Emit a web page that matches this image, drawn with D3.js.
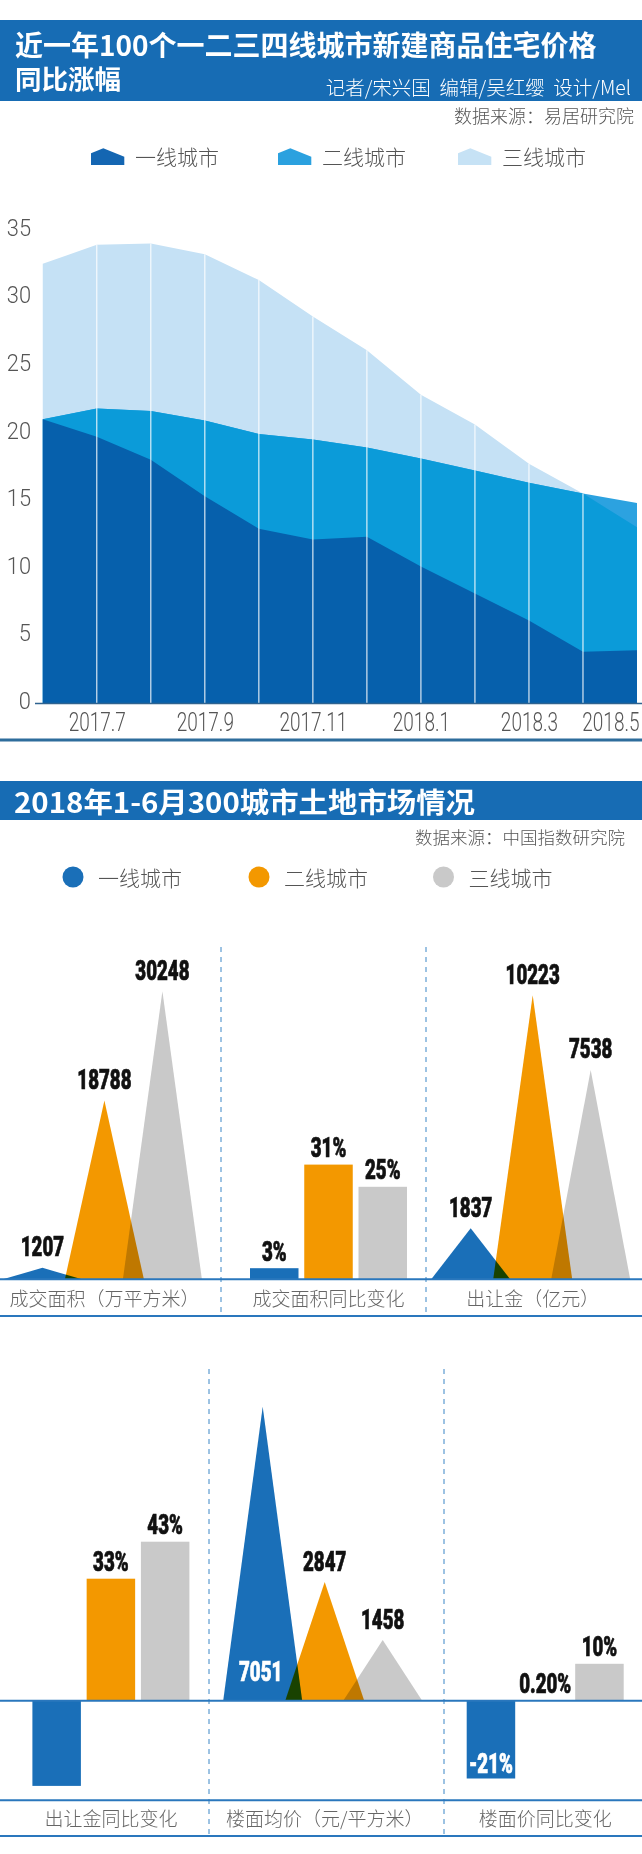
<!DOCTYPE html>
<html><head><meta charset="utf-8">
<script src="https://cdn.jsdelivr.net/npm/d3@7"></script>
<style>
body{margin:0;background:#fff;}
svg{display:block;font-family:"Noto Sans CJK SC","Noto Sans",sans-serif;}
</style></head><body>
<svg id="c" width="642" height="1854"></svg>
<script>
// ---------- data ----------
const months = ['2017.6','2017.7','2017.8','2017.9','2017.10','2017.11','2017.12','2018.1','2018.2','2018.3','2018.4','2018.5'];
const monthTicks = ['2017.7','2017.9','2017.11','2018.1','2018.3','2018.5'];
const tier1Growth = [21.0,19.7,18.0,15.3,12.9,12.1,12.3,10.1,8.1,6.1,3.8,3.9];
const tier2Growth = [21.0,21.8,21.6,20.9,19.9,19.5,18.9,18.1,17.2,16.3,15.5,14.8];
const tier3Growth = [32.5,33.9,34.0,33.2,31.3,28.6,26.1,22.8,20.6,17.7,15.5,13.0];
const growthTicks = [0,5,10,15,20,25,30,35];
const tiers = ['一线城市','二线城市','三线城市'];
const landArea = [1207,18788,30248];
const landAreaYoY = [3,31,25];
const landAreaYoYLabels = ['3%','31%','25%'];
const landRevenue = [1837,10223,7538];
const revenueYoY = [-23,33,43];
const revenueYoYLabels = [null,'33%','43%'];
const avgPrice = [7051,2847,1458];
const priceYoY = [-21,0.2,10];
const priceYoYLabels = ['-21%','0.20%','10%'];
const panelTitles = ['成交面积（万平方米）','成交面积同比变化','出让金（亿元）','出让金同比变化','楼面均价（元/平方米）','楼面价同比变化'];

// ---------- helpers ----------
const W = 642;
const svg = d3.select('#c');
const CJK = '"Noto Sans CJK SC","Noto Sans",sans-serif';
const NUM = 'Roboto,"Liberation Sans",sans-serif';
function condense(sel, k){
  sel.each(function(){
    const L = this.getComputedTextLength();
    if (L > 0){ this.setAttribute('textLength', L*k); this.setAttribute('lengthAdjust','spacingAndGlyphs'); }
  });
  return sel;
}

// ---------- header 1 ----------
svg.append('rect').attr('x',0).attr('y',20).attr('width',W).attr('height',81).attr('fill','#176cb4');
const title1 = svg.append('text').attr('fill','#fff').attr('font-weight',700).attr('font-family',CJK);
title1.append('tspan').attr('x',15).attr('y',56).attr('font-size',28).text('近一年100个一二三四线城市新建商品住宅价格');
title1.append('tspan').attr('x',15).attr('y',89).attr('font-size',26.5).text('同比涨幅');
svg.append('text').attr('x',631).attr('y',86).attr('dominant-baseline','central').attr('text-anchor','end')
  .attr('fill','#fff').attr('font-size',19.5).attr('font-weight',300).attr('font-family',CJK)
  .attr('xml:space','preserve')
  .text('记者/宋兴国  编辑/吴红缨  设计/Mel');
svg.append('text').attr('x',634).attr('y',115).attr('dominant-baseline','central').attr('text-anchor','end')
  .attr('fill','#555').attr('font-size',18).attr('font-weight',300).attr('font-family',CJK)
  .text('数据来源：易居研究院');

// legend 1
const areaColors = ['#0660ac','#0b9bd9','#c5e1f5'];
const legendIconColors = ['#1466b2','#2ba1df','#c6e2f5'];
const leg1x = [91, 278, 458];
tiers.forEach((t,i)=>{
  const g = svg.append('g').attr('transform',`translate(${leg1x[i]},148.3)`);
  g.append('path').attr('d','M0,16.7 L0,5 L12.3,0 L33.3,8.4 L33.3,16.7 Z').attr('fill',legendIconColors[i]);
  g.append('text').attr('x',44).attr('y',8).attr('dominant-baseline','central')
    .attr('fill','#555').attr('font-size',21).attr('font-weight',300).attr('font-family',CJK).text(t);
});

// ---------- area chart ----------
const x = d3.scalePoint().domain(months).range([42.75, 637]);
const y = d3.scaleLinear().domain([0,35]).range([703, 230]);
const areaGen = d3.area().x((d,i)=>x(months[i])).y0(y(0)).y1(d=>y(d));

const defs = svg.append('defs');
defs.append('clipPath').attr('id','t3clip').append('path').attr('d', areaGen(tier3Growth));

const gA = svg.append('g');
gA.append('path').attr('d', areaGen(tier3Growth)).attr('fill', areaColors[2]);
gA.append('path').attr('d', areaGen(tier2Growth)).attr('fill', '#2ca2e0');
gA.append('path').attr('d', areaGen(tier2Growth)).attr('fill', areaColors[1]).attr('clip-path','url(#t3clip)');
gA.append('path').attr('d', areaGen(tier1Growth)).attr('fill', areaColors[0]);

// white vertical grid lines
gA.selectAll('line.grid').data(months.slice(1, months.length-1)).enter().append('line')
  .attr('x1', d=>x(d)).attr('x2', d=>x(d))
  .attr('y1', (d)=>{ const i = months.indexOf(d); return y(Math.max(tier1Growth[i],tier2Growth[i],tier3Growth[i])); })
  .attr('y2', y(0))
  .attr('stroke','#fff').attr('stroke-opacity',0.85).attr('stroke-width',1.2);

// baseline
svg.append('line').attr('x1',35).attr('x2',W).attr('y1',y(0)+0.5).attr('y2',y(0)+0.5)
  .attr('stroke','#2f6390').attr('stroke-width',1.5);

// y axis
const yAxis = svg.append('g').attr('transform','translate(33,0)')
  .call(d3.axisLeft(y).tickValues(growthTicks).tickSize(0).tickPadding(2));
yAxis.select('.domain').remove();
yAxis.selectAll('text').attr('y',-2).attr('font-size',23).attr('font-family',NUM).attr('font-weight',300).attr('fill','#555');
condense(yAxis.selectAll('text'), 0.95);

// x axis (condensed horizontally with a scale transform)
const xk = 0.76;
const xAxis = svg.append('g').attr('transform',`translate(0,${y(0)})`)
  .call(d3.axisBottom(x).tickValues(monthTicks).tickSize(0));
xAxis.select('.domain').remove();
xAxis.selectAll('text').attr('y',19).attr('dy','0.35em').attr('font-size',25).attr('font-family',NUM)
  .attr('font-weight',300).attr('fill','#555').attr('transform',`scale(${xk},1)`);
const lastTick = monthTicks[monthTicks.length-1];
xAxis.selectAll('text').filter(d=>d===lastTick).attr('text-anchor','end').attr('x', ((W - 3) - x(lastTick))/xk);

// separator
svg.append('line').attr('x1',0).attr('x2',W).attr('y1',740).attr('y2',740).attr('stroke','#2e6d9c').attr('stroke-width',3);

// ---------- header 2 ----------
svg.append('rect').attr('x',0).attr('y',781).attr('width',W).attr('height',39).attr('fill','#176cb4');
svg.append('text').attr('x',14).attr('y',800.5).attr('dominant-baseline','central')
  .attr('fill','#fff').attr('font-size',28).attr('font-weight',700).attr('font-family',CJK)
  .attr('textLength',461).attr('lengthAdjust','spacingAndGlyphs')
  .text('2018年1-6月300城市土地市场情况');
svg.append('text').attr('x',625).attr('y',836.5).attr('dominant-baseline','central').attr('text-anchor','end')
  .attr('fill','#555').attr('font-size',17.5).attr('font-weight',300).attr('font-family',CJK)
  .text('数据来源：中国指数研究院');

const tierColors = ['#1a6fb8','#f39800','#c9c9c9'];
const leg2x = [73, 259, 443.5];
tiers.forEach((t,i)=>{
  svg.append('circle').attr('cx',leg2x[i]).attr('cy',877).attr('r',10.5).attr('fill',tierColors[i]);
  svg.append('text').attr('x',leg2x[i]+25).attr('y',877).attr('dominant-baseline','central')
    .attr('fill','#555').attr('font-size',21).attr('font-weight',300).attr('font-family',CJK).text(t);
});

// ---------- panels ----------
const lineColor = '#2a77bd';
function hline(yy, w){ svg.append('line').attr('x1',0).attr('x2',W).attr('y1',yy).attr('y2',yy).attr('stroke',lineColor).attr('stroke-width',w||2); }
function dashed(xx, y1, y2){ svg.append('line').attr('x1',xx).attr('x2',xx).attr('y1',y1).attr('y2',y2)
  .attr('stroke','#3a86c6').attr('stroke-width',1).attr('stroke-dasharray','5,5'); }

dashed(221, 947, 1317); dashed(426, 947, 1317);
dashed(209, 1369, 1836); dashed(444, 1369, 1836);

const panels = [
  {type:'tri', values:landArea, labels:landArea.map(String), cx:104.4, base:1279.3, H:288, top:950, titleY:1297.5, title:panelTitles[0]},
  {type:'bar', values:landAreaYoY, labels:landAreaYoYLabels, cx:328.5, base:1279.3, titleY:1297.5, title:panelTitles[1]},
  {type:'tri', values:landRevenue, labels:landRevenue.map(String), cx:532.7, base:1279.3, H:284, top:950, titleY:1297.5, title:panelTitles[2]},
  {type:'bar', values:revenueYoY, labels:revenueYoYLabels, cx:110.9, base:1700.8, titleY:1817.3, title:panelTitles[3]},
  {type:'tri', values:avgPrice, labels:avgPrice.map(String), cx:324.7, base:1700.8, H:294, top:1400, titleY:1817.3, title:panelTitles[4]},
  {type:'bar', values:priceYoY, labels:priceYoYLabels, cx:545.2, base:1700.8, titleY:1817.3, title:panelTitles[5]},
];
const triOffsets = [-62, 0, 58], triHalf = 39.5;
const barOffsets = [-54.25, 0, 54.25], barW = 48.5;
const pct = d3.scaleLinear().domain([0,10]).range([0,37]);

const labelLayer = [];
panels.forEach(p=>{
  const g = svg.append('g');
  if (p.type==='tri'){
    const h = d3.scaleLinear().domain([0, d3.max(p.values)]).range([0, p.H]);
    p.values.forEach((v,i)=>{
      const cx = p.cx + triOffsets[i];
      const top = p.base - h(v);
      const path = d3.path();
      path.moveTo(cx - triHalf, p.base); path.lineTo(cx, top); path.lineTo(cx + triHalf, p.base); path.closePath();
      g.append('path').attr('d', path.toString()).attr('fill', tierColors[i]).style('mix-blend-mode','multiply');
      if (top - 21 < p.top) labelLayer.push({x:cx-2, y:p.base-29, t:p.labels[i], c:'#fff'});
      else labelLayer.push({x:cx, y:top-21, t:p.labels[i], c:'#111'});
    });
  } else {
    p.values.forEach((v,i)=>{
      const cx = p.cx + barOffsets[i];
      const hh = pct(Math.abs(v));
      const yy = v >= 0 ? p.base - hh : p.base;
      g.append('rect').attr('x', cx - barW/2).attr('y', yy).attr('width', barW).attr('height', hh).attr('fill', tierColors[i]);
      if (p.labels[i]){
        if (v >= 0) labelLayer.push({x:cx, y:p.base - hh - 17, t:p.labels[i], c:'#111'});
        else labelLayer.push({x:cx, y:p.base + hh - 15, t:p.labels[i], c:'#fff'});
      }
    });
  }
  svg.append('text').attr('x', p.cx).attr('y', p.titleY).attr('text-anchor','middle').attr('dominant-baseline','central')
    .attr('fill','#666').attr('font-size',19).attr('font-weight',300).attr('font-family',CJK).text(p.title);
});

hline(1279.3); hline(1316);
hline(1700.8); hline(1800.2); hline(1836);

const lbl = svg.append('g').selectAll('text').data(labelLayer).enter().append('text')
  .attr('x', d=>d.x).attr('y', d=>d.y).attr('text-anchor','middle').attr('dominant-baseline','central')
  .attr('fill', d=>d.c).attr('stroke', d=>d.c).attr('stroke-width',0.7)
  .attr('font-size',27.5).attr('font-weight',900).attr('font-family',NUM)
  .text(d=>d.t);
condense(lbl, 0.68);
</script>
</body></html>
